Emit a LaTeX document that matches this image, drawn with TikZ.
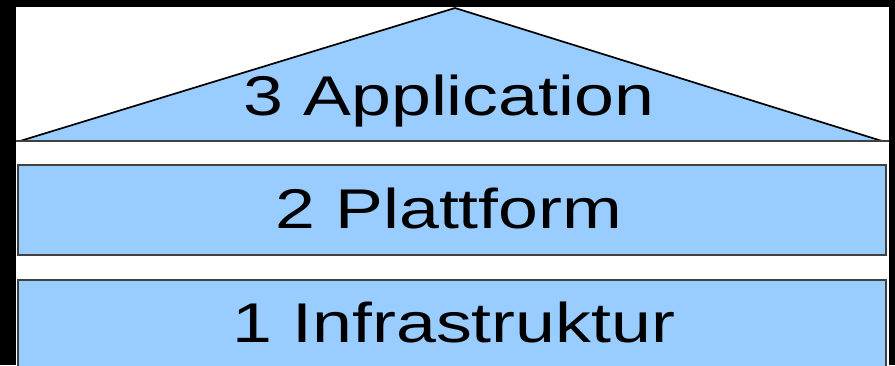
\documentclass[tikz,border=0pt]{standalone}
\usepackage{fontspec}
\setmainfont{Liberation Sans}
\definecolor{layerblue}{HTML}{99CCFF}
\definecolor{edgegray}{HTML}{404040}
\tikzset{
  layer/.style={fill=layerblue, draw=edgegray, line width=1.6pt},
  roof/.style={fill=layerblue, draw=black, line width=1.7pt, line join=miter},
  label/.style={anchor=base, inner sep=0pt, font=\fontsize{56}{60}\selectfont},
}
\newcommand{\wide}[1]{\scalebox{1.28}[1]{#1}}
\begin{document}
\begin{tikzpicture}[x=1pt, y=-1pt]
  \useasboundingbox (0,0) rectangle (895,365);
  % dark frame and white canvas
  \fill[black] (0,0) rectangle (895,365);
  \fill[white] (16,7) rectangle (889,365);
  % roof (application layer)
  \coordinate (roofL) at (20,141);
  \coordinate (roofT) at (455,8);
  \coordinate (roofR) at (882,141);
  \path[roof] (roofL) -- (roofT) -- (roofR) -- cycle;
  \coordinate (baseL) at (16,141);
  \coordinate (baseR) at (889,141);
  \draw[edgegray, line width=1.7pt] (baseL) -- (baseR);
  % platform and infrastructure layers
  \path[layer] (18,165) rectangle (886,255);
  \path[layer] (18,280) rectangle (886,372);
  % layer labels
  \node[label] (app) at (449,115) {\wide{3 Application}};
  \node[label] (plat) at (449,228) {\wide{2 Plattform}};
  \node[label] (infra) at (454,342) {\wide{1 Infrastruktur}};
\end{tikzpicture}
\end{document}
